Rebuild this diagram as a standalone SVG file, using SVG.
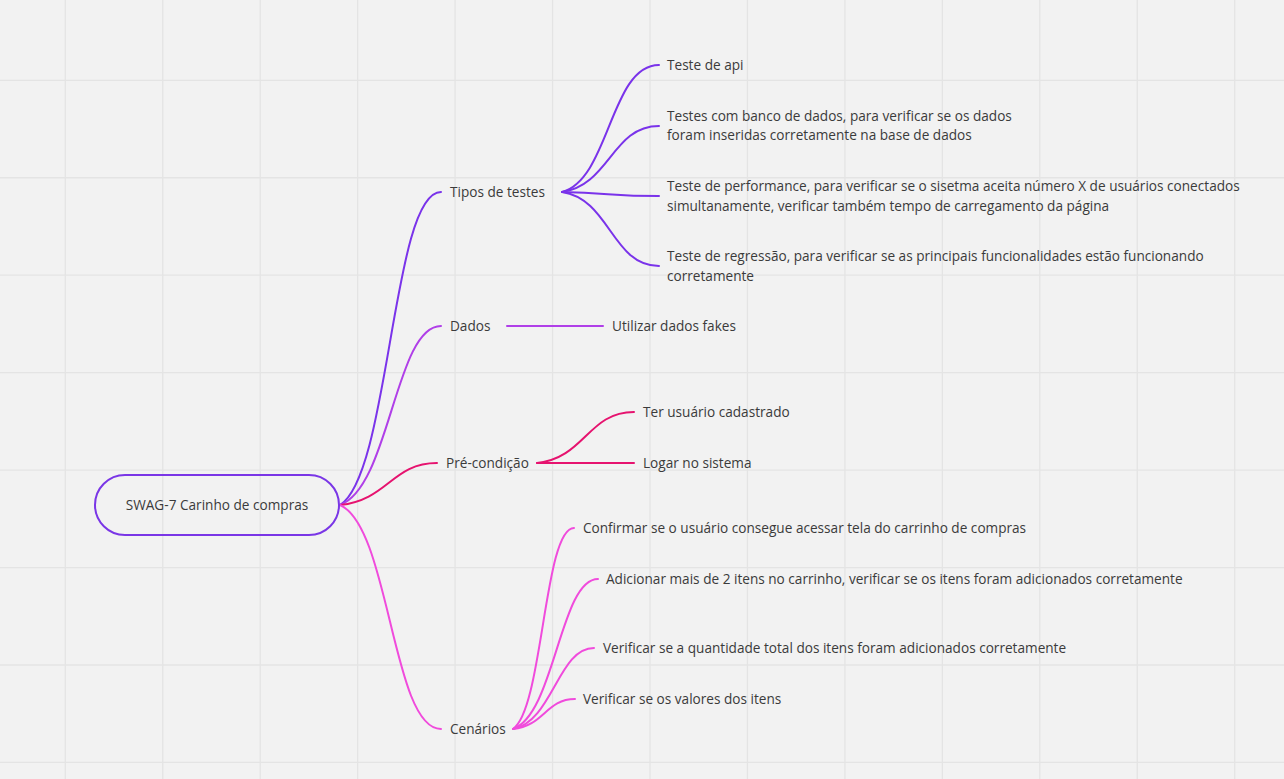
<svg xmlns="http://www.w3.org/2000/svg" width="1284" height="779" viewBox="0 0 1284 779">
<style>
.bg{fill:#f2f2f2}
.grid line{stroke:#e4e4e4;stroke-width:1.3}
.t{font-family:"Open Sans","Noto Sans","DejaVu Sans",sans-serif;font-size:13.62px;fill:#3b3b3b}
.c{fill:none;stroke-width:2;stroke-linecap:round}
.violet{stroke:#7a33ea}
.purple{stroke:#b03fe8}
.red{stroke:#e6136f}
.pink{stroke:#f04bdc}
</style>
<rect class="bg" x="0" y="0" width="1284" height="779"/>
<g class="grid">
<line x1="65.3" y1="0" x2="65.3" y2="779"/>
<line x1="162.75" y1="0" x2="162.75" y2="779"/>
<line x1="260.2" y1="0" x2="260.2" y2="779"/>
<line x1="357.65" y1="0" x2="357.65" y2="779"/>
<line x1="455.1" y1="0" x2="455.1" y2="779"/>
<line x1="552.55" y1="0" x2="552.55" y2="779"/>
<line x1="650" y1="0" x2="650" y2="779"/>
<line x1="747.45" y1="0" x2="747.45" y2="779"/>
<line x1="844.9" y1="0" x2="844.9" y2="779"/>
<line x1="942.35" y1="0" x2="942.35" y2="779"/>
<line x1="1039.8" y1="0" x2="1039.8" y2="779"/>
<line x1="1137.25" y1="0" x2="1137.25" y2="779"/>
<line x1="1234.7" y1="0" x2="1234.7" y2="779"/>
<line x1="0" y1="80.3" x2="1284" y2="80.3"/>
<line x1="0" y1="177.75" x2="1284" y2="177.75"/>
<line x1="0" y1="275.2" x2="1284" y2="275.2"/>
<line x1="0" y1="372.65" x2="1284" y2="372.65"/>
<line x1="0" y1="470.1" x2="1284" y2="470.1"/>
<line x1="0" y1="567.55" x2="1284" y2="567.55"/>
<line x1="0" y1="665" x2="1284" y2="665"/>
<line x1="0" y1="762.45" x2="1284" y2="762.45"/>
</g>
<g id="connectors">
<path class="c violet" d="M340,505 C390,474 392,192 441,192"/>
<path class="c purple" d="M340,505 C390,487 395,326 441,326"/>
<path class="c red" d="M340,505 C388,500 392,463 437,463"/>
<path class="c pink" d="M340,505 C390,527 392,729 441,729"/>
<path class="c violet" d="M562,192 C610,179 610,65 659,65"/>
<path class="c violet" d="M562,192 C610,185 612,126 659,126"/>
<path class="c violet" d="M562,192 C610,193 612,196 659,196"/>
<path class="c violet" d="M562,192 C610,199 612,266 659,266"/>
<path class="c purple" d="M507,326 L603,326"/>
<path class="c red" d="M537,463 C585,458 588,412 634,412"/>
<path class="c red" d="M537,463 L634,463"/>
<path class="c pink" d="M513,729 C543,709 544,528 574,528"/>
<path class="c pink" d="M513,729 C555,714 560,579 598,579"/>
<path class="c pink" d="M513,729 C553,721 558,648 594,648"/>
<path class="c pink" d="M513,729 C544,726 546,699 575,699"/>
</g>
<g id="root">
<rect x="95" y="475" width="244" height="60" rx="30" ry="30" fill="none" stroke="#7a36e6" stroke-width="2"/>
<text class="t" x="217" y="510" text-anchor="middle">SWAG-7 Carinho de compras</text>
</g>
<g id="tipos"><text class="t" x="450" y="197">Tipos de testes</text></g>
<g id="dados"><text class="t" x="450" y="331">Dados</text></g>
<g id="precondicao"><text class="t" x="446" y="468">Pré-condição</text></g>
<g id="cenarios"><text class="t" x="450" y="734">Cenários</text></g>
<g id="teste-api"><text class="t" x="667" y="70">Teste de api</text></g>
<g id="teste-banco"><text class="t" x="667" y="121">Testes com banco de dados, para verificar se os dados</text><text class="t" x="667" y="140">foram inseridas corretamente na base de dados</text></g>
<g id="teste-performance"><text class="t" x="667" y="191">Teste de performance, para verificar se o sisetma aceita número X de usuários conectados</text><text class="t" x="667" y="211">simultanamente, verificar também tempo de carregamento da página</text></g>
<g id="teste-regressao"><text class="t" x="667" y="261">Teste de regressão, para verificar se as principais funcionalidades estão funcionando</text><text class="t" x="667" y="281">corretamente</text></g>
<g id="dados-fakes"><text class="t" x="612" y="331">Utilizar dados fakes</text></g>
<g id="ter-usuario"><text class="t" x="643" y="417">Ter usuário cadastrado</text></g>
<g id="logar"><text class="t" x="643" y="468">Logar no sistema</text></g>
<g id="cen-confirmar"><text class="t" x="583" y="533">Confirmar se o usuário consegue acessar tela do carrinho de compras</text></g>
<g id="cen-adicionar"><text class="t" x="606" y="584">Adicionar mais de 2 itens no carrinho, verificar se os itens foram adicionados corretamente</text></g>
<g id="cen-quantidade"><text class="t" x="603" y="653">Verificar se a quantidade total dos itens foram adicionados corretamente</text></g>
<g id="cen-valores"><text class="t" x="583" y="704">Verificar se os valores dos itens</text></g>
</svg>
